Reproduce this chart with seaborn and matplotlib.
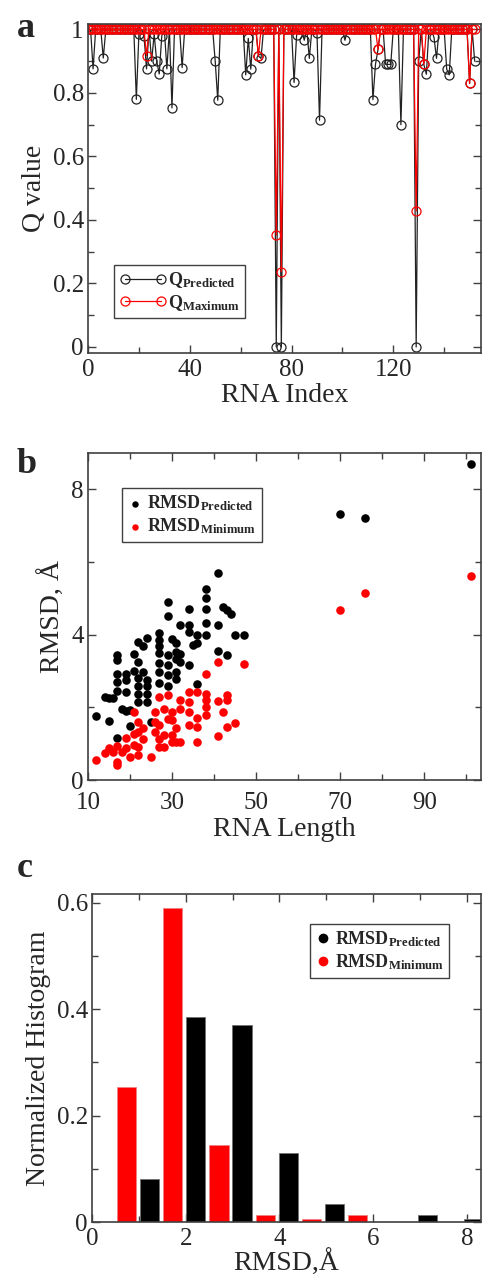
import numpy as np
import pandas as pd
import matplotlib
matplotlib.use('Agg')
import matplotlib.pyplot as plt
import seaborn as sns
from matplotlib.lines import Line2D
from matplotlib.ticker import MultipleLocator

# ---------------- data ----------------
# panel a: Q values per RNA index (all 1 except the dips listed)
n_rna = 153
pred_dip_idx = [2, 6, 19, 20, 22, 23, 25, 26, 27, 28, 29, 31, 33, 37, 50, 51, 62, 63, 64, 67, 68,
                74, 76, 81, 82, 85, 87, 90, 91, 101, 112, 113, 114, 117, 118, 119, 123, 129, 130,
                132, 133, 136, 137, 141, 142, 150, 152]
pred_dip_val = [0.876, 0.91, 0.78, 0.985, 0.98, 0.876, 0.90, 0.985, 0.90, 0.86, 0.98, 0.876, 0.753,
                0.88, 0.90, 0.777, 0.857, 0.972, 0.875, 0.916, 0.909, 0.0, 0.0, 0.833, 0.982, 0.966,
                0.909, 0.99, 0.714, 0.966, 0.779, 0.89, 0.937, 0.89, 0.89, 0.89, 0.70, 0.0, 0.90,
                0.89, 0.859, 0.975, 0.909, 0.875, 0.857, 0.83, 0.90]
max_dip_idx = [23, 67, 74, 76, 114, 129, 132, 150]
max_dip_val = [0.918, 0.916, 0.352, 0.237, 0.937, 0.428, 0.89, 0.83]

# panel b: RMSD vs RNA length
pred_len = [12, 15, 14, 15, 16, 17, 17, 17, 17, 17, 17, 19, 19, 19, 18, 19, 20, 20, 21, 22, 21, 22, 22,
            22, 22, 22, 23, 24, 23, 24, 24, 24, 24, 25, 27, 27, 27, 27, 27, 27, 27, 29, 29, 29, 29, 29,
            29, 30, 31, 31, 31, 32, 31, 31, 32, 32, 34, 34, 34, 35, 34, 36, 36, 36, 38, 38, 38, 38, 38,
            41, 41, 42, 43, 44, 41, 43, 45, 47, 70, 76, 101]
pred_rmsd = [1.77, 1.62, 2.29, 2.25, 2.27, 3.44, 3.3, 2.93, 2.7, 2.45, 1.15, 2.93, 2.75, 2.43, 1.95, 1.9,
             1.92, 1.5, 3.48, 3.25, 3.0, 2.8, 2.6, 2.38, 2.15, 3.8, 3.7, 3.9, 2.97, 2.75, 2.6, 2.38, 2.15,
             1.6, 4.04, 3.86, 3.68, 3.5, 3.23, 2.96, 2.68, 4.9, 4.52, 3.44, 3.16, 2.89, 2.6, 3.89, 3.76,
             3.53, 3.34, 3.25, 2.98, 2.79, 3.48, 4.26, 4.72, 4.26, 4.08, 3.71, 3.16, 3.99, 3.76, 2.63,
             5.27, 5.0, 4.72, 4.31, 3.99, 5.71, 4.26, 4.76, 4.67, 4.58, 3.55, 3.45, 3.99, 4.0, 7.33,
             7.21, 8.71]
min_len = [12, 14, 15, 16, 17, 17, 17, 18, 19, 19, 20, 21, 21, 22, 22, 23, 23, 21, 22, 22, 25, 26, 26,
           27, 27, 26, 27, 28, 28, 27, 29, 28, 29, 30, 30, 31, 30, 31, 32, 30, 32, 32, 34, 34, 34, 34,
           36, 36, 36, 36, 38, 38, 38, 38, 38, 41, 47, 41, 43, 43, 42, 43, 45, 41, 70, 76, 101]
min_rmsd = [0.55, 0.75, 0.89, 0.78, 0.51, 0.42, 0.95, 0.78, 1.15, 0.87, 0.64, 1.28, 0.96, 0.69, 0.92,
            1.42, 1.14, 1.87, 1.6, 1.33, 0.64, 1.6, 1.33, 1.14, 0.92, 1.87, 1.51, 1.24, 0.92, 2.29,
            2.34, 1.96, 1.69, 1.88, 1.65, 1.42, 1.24, 1.05, 1.05, 1.05, 2.2, 1.95, 2.43, 2.14, 1.88,
            1.51, 2.43, 1.7, 1.47, 1.05, 2.93, 2.38, 2.2, 2.02, 1.79, 3.24, 3.2, 2.17, 2.34, 2.2, 1.88,
            1.47, 1.56, 1.22, 4.69, 5.15, 5.62]

# panel c: normalized histograms
min_bins = [0.73, 1.72, 2.71, 3.70, 4.68, 5.67]
min_hist = [0.254, 0.591, 0.144, 0.0125, 0.006, 0.0125]
pred_bins = [1.23, 2.21, 3.20, 4.20, 5.18, 7.16, 8.15]
pred_hist = [0.081, 0.385, 0.371, 0.130, 0.034, 0.0125, 0.006]

# ---------------- style ----------------
sns.set_style('ticks')
plt.rcParams['font.family'] = ['Liberation Serif', 'DejaVu Serif']
plt.rcParams['mathtext.fontset'] = 'custom'
plt.rcParams['mathtext.rm'] = 'Liberation Serif'
plt.rcParams['mathtext.bf'] = 'Liberation Serif:bold'
plt.rcParams['mathtext.it'] = 'Liberation Serif:italic'
plt.rcParams['axes.edgecolor'] = '#404040'
plt.rcParams['axes.linewidth'] = 1.2

tick_fs = 18
label_fs = 20

fig = plt.figure(figsize=(4.82, 12.87), dpi=100)
ax1 = fig.add_axes([0.1826, 0.7257, 0.8154, 0.2556])
ax2 = fig.add_axes([0.1826, 0.3939, 0.8154, 0.2541])
ax3 = fig.add_axes([0.1909, 0.0505, 0.8071, 0.2549])


def style_ticks(ax):
    ax.tick_params(which='both', direction='in', top=True, right=True,
                   labelsize=tick_fs, color='#404040', width=1.0)
    ax.tick_params(axis='x', which='both', pad=4)
    ax.tick_params(axis='y', which='both', pad=3)
    ax.tick_params(which='major', length=6)
    ax.tick_params(which='minor', length=4)


# ---------------- panel a ----------------
q_pred = np.ones(n_rna)
q_pred[pred_dip_idx] = pred_dip_val
q_max = np.ones(n_rna)
q_max[max_dip_idx] = max_dip_val
df_a = pd.DataFrame({'idx': np.arange(n_rna), 'pred': q_pred, 'max': q_max})

sns.lineplot(data=df_a, x='idx', y='pred', ax=ax1, estimator=None, color='#222222', linewidth=0.9,
             marker='o', markersize=6.5, markerfacecolor='none', mec='#222222', mew=0.9,
             label=r'$\mathbf{Q}_{\mathbf{Predicted}}$')
sns.lineplot(data=df_a, x='idx', y='max', ax=ax1, estimator=None, color='red', linewidth=0.9,
             marker='o', markersize=6.5, markerfacecolor='none', mec='red', mew=0.9,
             label=r'$\mathbf{Q}_{\mathbf{Maximum}}$')
ax1.set_xlim(0, 154.5)
ax1.set_ylim(-0.019, 1.017)
ax1.xaxis.set_major_locator(MultipleLocator(40))
ax1.xaxis.set_minor_locator(MultipleLocator(20))
ax1.yaxis.set_major_locator(MultipleLocator(0.2))
ax1.yaxis.set_minor_locator(MultipleLocator(0.1))
ax1.set_yticklabels(['0' if abs(t) < 1e-9 else ('1' if abs(t - 1) < 1e-9 else f'{t:.1f}')
                     for t in ax1.get_yticks()])
ax1.set_xlabel('RNA Index', fontsize=label_fs, labelpad=2)
ax1.set_ylabel('Q value', fontsize=label_fs)
style_ticks(ax1)
ax1.legend(loc='lower left', bbox_to_anchor=(0.066, 0.106), borderaxespad=0, numpoints=2,
           fontsize=13, frameon=True, fancybox=False, edgecolor='#404040', framealpha=1,
           handlelength=2.6, handletextpad=0.1, borderpad=0.3, labelspacing=0.15)

# ---------------- panel b ----------------
sns.scatterplot(x=pred_len, y=pred_rmsd, ax=ax2, color='black', s=38, linewidth=0,
                label=r'$\mathbf{RMSD}_{\mathbf{Predicted}}$')
sns.scatterplot(x=min_len, y=min_rmsd, ax=ax2, color='red', s=38, linewidth=0,
                label=r'$\mathbf{RMSD}_{\mathbf{Minimum}}$')
ax2.set_xlim(10, 103.5)
ax2.set_ylim(0, 9.0)
ax2.set_xticks([10, 30, 50, 70, 90])
ax2.xaxis.set_minor_locator(MultipleLocator(10))
ax2.set_yticks([0, 4, 8])
ax2.yaxis.set_minor_locator(MultipleLocator(2))
ax2.set_xlabel('RNA Length', fontsize=label_fs, labelpad=2)
ax2.set_ylabel('RMSD, Å', fontsize=label_fs)
style_ticks(ax2)
ax2.tick_params(axis='x', which='both', pad=8.5)
ax2.legend(loc='upper left', bbox_to_anchor=(0.0865, 0.893), borderaxespad=0,
           fontsize=13, frameon=True, fancybox=False, edgecolor='#404040', framealpha=1,
           handlelength=0.8, handletextpad=0.3, borderpad=0.3, labelspacing=0.2, markerscale=0.75)

# ---------------- panel c ----------------
sns.barplot(x=min_bins, y=min_hist, ax=ax3, native_scale=True, orient='x', width=0.41 / 0.98,
            color='red', saturation=1, errorbar=None, edgecolor='#f08080', linewidth=0.6)
sns.barplot(x=pred_bins, y=pred_hist, ax=ax3, native_scale=True, orient='x', width=0.41 / 0.98,
            color='black', saturation=1, errorbar=None, edgecolor='#707070', linewidth=0.6)
ax3.set_xlim(0, 8.3)
ax3.set_ylim(0, 0.617)
ax3.xaxis.set_major_locator(MultipleLocator(2))
ax3.xaxis.set_minor_locator(MultipleLocator(1))
ax3.yaxis.set_major_locator(MultipleLocator(0.2))
ax3.yaxis.set_minor_locator(MultipleLocator(0.1))
ax3.set_yticklabels(['0' if abs(t) < 1e-9 else f'{t:.1f}' for t in ax3.get_yticks()])
ax3.set_xlabel('RMSD,Å', fontsize=label_fs, labelpad=0)
ax3.set_ylabel('Normalized Histogram', fontsize=label_fs)
style_ticks(ax3)
handles = [Line2D([], [], marker='o', ls='none', color='black', markersize=6),
           Line2D([], [], marker='o', ls='none', color='red', markersize=6)]
ax3.legend(handles, [r'$\mathbf{RMSD}_{\mathbf{Predicted}}$', r'$\mathbf{RMSD}_{\mathbf{Minimum}}$'],
           loc='upper left', bbox_to_anchor=(0.56, 0.909), borderaxespad=0,
           fontsize=13, frameon=True, fancybox=False, edgecolor='#404040', framealpha=1,
           handlelength=0.8, handletextpad=0.3, borderpad=0.3, labelspacing=0.2)

# panel letters
fig.text(0.035, 0.9713, 'a', fontsize=26, fontweight='bold', va='baseline')
fig.text(0.035, 0.6325, 'b', fontsize=26, fontweight='bold', va='baseline')
fig.text(0.035, 0.3186, 'c', fontsize=26, fontweight='bold', va='baseline')

fig.savefig('out.png', dpi=100)
